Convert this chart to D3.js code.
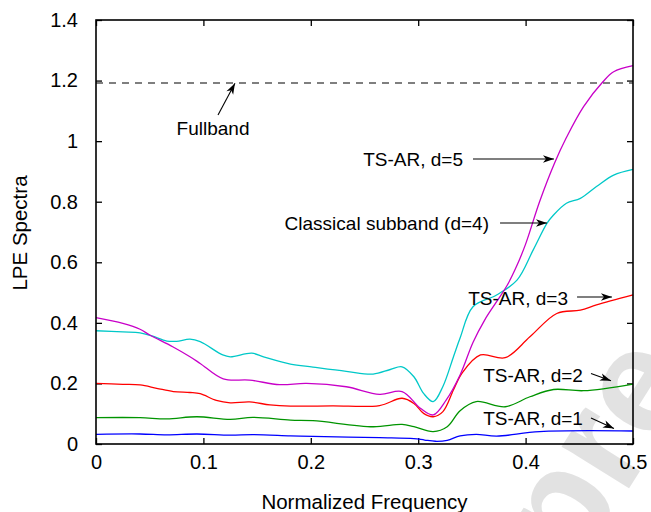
<!DOCTYPE html>
<html>
<head>
<meta charset="utf-8">
<script src="https://cdn.jsdelivr.net/npm/d3@7"></script>
<style>
  body { margin: 0; background: #fff; }
  text { font-family: "Liberation Sans", Arial, Helvetica, sans-serif; fill: #000; }
</style>
</head>
<body>
<svg id="chart" width="651" height="512"></svg>
<script>
// spectra, as [normalized frequency, LPE] pairs
var tsar5 = [[0,0.417],[0.025,0.398],[0.041,0.379],[0.05,0.36],[0.0714,0.321],[0.0875,0.288],[0.097,0.266],[0.1185,0.215],[0.143,0.211],[0.171,0.196],[0.196,0.2],[0.233,0.189],[0.264,0.164],[0.285,0.173],[0.302,0.118],[0.314,0.096],[0.326,0.145],[0.339,0.228],[0.351,0.335],[0.362,0.41],[0.373,0.47],[0.383,0.525],[0.392,0.59],[0.4,0.66],[0.413,0.8],[0.427,0.928],[0.438,1.012],[0.454,1.114],[0.472,1.196],[0.482,1.229],[0.5,1.249]];
var classical4 = [[0,0.374],[0.025,0.37],[0.041,0.367],[0.052,0.357],[0.066,0.34],[0.075,0.339],[0.0875,0.346],[0.097,0.338],[0.118,0.294],[0.125,0.288],[0.145,0.3],[0.156,0.288],[0.181,0.264],[0.202,0.254],[0.233,0.24],[0.258,0.231],[0.274,0.246],[0.285,0.255],[0.296,0.222],[0.305,0.167],[0.314,0.14],[0.323,0.19],[0.333,0.29],[0.339,0.35],[0.351,0.453],[0.373,0.492],[0.392,0.541],[0.407,0.64],[0.42,0.729],[0.426,0.756],[0.438,0.795],[0.451,0.811],[0.466,0.85],[0.482,0.888],[0.5,0.907]];
var tsar3 = [[0,0.2],[0.025,0.197],[0.041,0.195],[0.0565,0.184],[0.072,0.173],[0.0875,0.17],[0.097,0.166],[0.112,0.144],[0.125,0.136],[0.143,0.139],[0.162,0.129],[0.181,0.125],[0.22,0.126],[0.264,0.127],[0.285,0.151],[0.296,0.134],[0.305,0.101],[0.314,0.09],[0.323,0.107],[0.333,0.18],[0.341,0.235],[0.358,0.294],[0.381,0.285],[0.404,0.354],[0.429,0.431],[0.451,0.442],[0.466,0.459],[0.5,0.492]];
var tsar2 = [[0,0.087],[0.041,0.087],[0.066,0.083],[0.094,0.09],[0.125,0.081],[0.146,0.088],[0.181,0.079],[0.202,0.077],[0.258,0.057],[0.285,0.065],[0.296,0.057],[0.314,0.041],[0.327,0.057],[0.339,0.11],[0.354,0.14],[0.381,0.123],[0.404,0.156],[0.426,0.18],[0.454,0.176],[0.5,0.198]];
var tsar1 = [[0,0.032],[0.041,0.033],[0.066,0.03],[0.094,0.033],[0.125,0.029],[0.146,0.031],[0.181,0.027],[0.202,0.025],[0.264,0.021],[0.296,0.018],[0.306,0.013],[0.316,0.009],[0.327,0.012],[0.339,0.027],[0.354,0.032],[0.373,0.026],[0.413,0.041],[0.5,0.043]];
var fullband = 1.192;

var seriesNames = ["TS-AR, d=1", "TS-AR, d=2", "TS-AR, d=3", "Classical subband (d=4)", "TS-AR, d=5"];
var seriesColors = ["#0000ff", "#009400", "#ff0000", "#00c8c8", "#c800c8"];
var seriesData = [tsar1, tsar2, tsar3, classical4, tsar5];

var xTicks = [0, 0.1, 0.2, 0.3, 0.4, 0.5];
var yTicks = [0, 0.2, 0.4, 0.6, 0.8, 1, 1.2, 1.4];

// labels with arrows: text end point, arrow tail, arrow head (data units)
var annotations = [
    { text: "Fullband", anchor: "middle", tx: 0.109, ty: 1.043, x1: 0.1136, y1: 1.086, x2: 0.1294, y2: 1.191 },
    { text: "TS-AR, d=5", anchor: "end", tx: 0.3417, ty: 0.941, x1: 0.351, y1: 0.941, x2: 0.4264, y2: 0.941 },
    { text: "Classical subband (d=4)", anchor: "end", tx: 0.3659, ty: 0.7296, x1: 0.3762, y1: 0.7296, x2: 0.4199, y2: 0.7296 },
    { text: "TS-AR, d=3", anchor: "end", tx: 0.4395, ty: 0.482, x1: 0.4479, y1: 0.4853, x2: 0.4804, y2: 0.4853 },
    { text: "TS-AR, d=2", anchor: "end", tx: 0.4534, ty: 0.2278, x1: 0.4609, y1: 0.2328, x2: 0.4795, y2: 0.209 },
    { text: "TS-AR, d=1", anchor: "end", tx: 0.4534, ty: 0.0858, x1: 0.4609, y1: 0.0858, x2: 0.4823, y2: 0.0512 }
];

var margin = { top: 20, right: 18, bottom: 68, left: 96 };
var width = 651 - margin.left - margin.right;
var height = 512 - margin.top - margin.bottom;

const svg = d3.select('#chart');

// faint watermark in the corner
svg.append('text')
    .attr('transform', 'translate(575, 575) rotate(-58)')
    .style('font-size', '150px')
    .style('font-weight', 'bold')
    .style('fill', '#e2e2e2')
    .text('pre');

let x = d3.scaleLinear().domain([0, 0.5]).range([0, width]);
let y = d3.scaleLinear().domain([0, 1.4]).range([height, 0]);

const g = svg.append('g')
    .attr('transform', 'translate(' + margin.left + ', ' + margin.top + ')');

svg.append('defs').append('marker')
    .attr('id', 'arrow')
    .attr('markerUnits', 'userSpaceOnUse')
    .attr('viewBox', '-12 -5 13 10')
    .attr('refX', 0).attr('refY', 0)
    .attr('markerWidth', 13).attr('markerHeight', 10)
    .attr('orient', 'auto')
    .append('path')
    .attr('d', 'M0,0 L-11,-3.8 L-8,0 L-11,3.8 Z')
    .style('fill', '#000');

// ticks point inward on all four sides
let axisBottom = d3.axisBottom(x).tickValues(xTicks).tickSizeInner(-6).tickSizeOuter(0).tickPadding(11).tickFormat(d3.format('~g'));
let axisTop = d3.axisTop(x).tickValues(xTicks).tickSizeInner(-6).tickSizeOuter(0).tickFormat('');
let axisLeft = d3.axisLeft(y).tickValues(yTicks).tickSizeInner(-6).tickSizeOuter(0).tickPadding(18).tickFormat(d3.format('~g'));
let axisRight = d3.axisRight(y).tickValues(yTicks).tickSizeInner(-6).tickSizeOuter(0).tickFormat('');

g.append('g').attr('class', 'axis').attr('transform', 'translate(0,' + height + ')').call(axisBottom);
g.append('g').attr('class', 'axis').call(axisTop);
g.append('g').attr('class', 'axis').call(axisLeft);
g.append('g').attr('class', 'axis').attr('transform', 'translate(' + width + ',0)').call(axisRight);

g.selectAll('.axis .domain').remove();
g.selectAll('.axis line').style('stroke', '#000').style('stroke-width', 1.3);
g.selectAll('.axis text').style('font-size', '20px').style('font-family', '"Liberation Sans", Arial, sans-serif').style('fill', '#000');

// fullband reference level
g.append('line')
    .attr('x1', 0).attr('x2', width)
    .attr('y1', y(fullband)).attr('y2', y(fullband))
    .style('stroke', '#000')
    .style('stroke-width', 1.1)
    .style('stroke-dasharray', '7,6');

let line = d3.line()
    .x(d => x(d[0]))
    .y(d => y(d[1]))
    .curve(d3.curveCatmullRom.alpha(0.5));

g.selectAll('.spectrum')
    .data(seriesData)
    .enter()
    .append('path')
    .attr('class', 'spectrum')
    .attr('d', line)
    .style('fill', 'none')
    .style('stroke', (d, i) => seriesColors[i])
    .style('stroke-width', 1.3);

// frame
g.append('rect')
    .attr('width', width).attr('height', height)
    .style('fill', 'none')
    .style('stroke', '#000')
    .style('stroke-width', 1.6);

g.selectAll('.note')
    .data(annotations)
    .enter()
    .append('text')
    .attr('class', 'note')
    .attr('x', d => x(d.tx))
    .attr('y', d => y(d.ty))
    .attr('dy', '0.35em')
    .attr('text-anchor', d => d.anchor)
    .style('font-size', '19px')
    .text(d => d.text);

g.selectAll('.noteArrow')
    .data(annotations)
    .enter()
    .append('line')
    .attr('class', 'noteArrow')
    .attr('x1', d => x(d.x1)).attr('y1', d => y(d.y1))
    .attr('x2', d => x(d.x2)).attr('y2', d => y(d.y2))
    .style('stroke', '#000')
    .style('stroke-width', 1.1)
    .attr('marker-end', 'url(#arrow)');

svg.append('text')
    .attr('x', margin.left + width / 2)
    .attr('y', 509)
    .attr('text-anchor', 'middle')
    .style('font-size', '20.5px')
    .text('Normalized Frequency');

svg.append('text')
    .attr('transform', 'translate(27, 233) rotate(-90)')
    .attr('text-anchor', 'middle')
    .style('font-size', '20.5px')
    .text('LPE Spectra');
</script>
</body>
</html>
